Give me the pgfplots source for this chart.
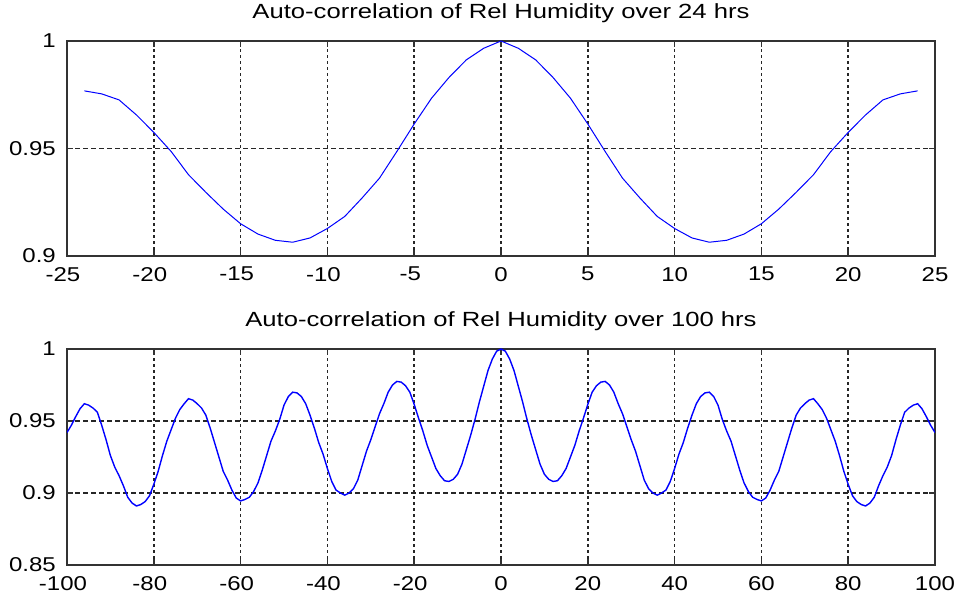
\documentclass[border=0pt]{standalone}
\usepackage{fontspec}
\setmainfont{Liberation Sans}[FakeStretch=1.2]
\newfontfamily\titlefont{Liberation Sans}[FakeStretch=1.25]
\usepackage{pgfplots}
\usepackage{pgfplotstable}
\pgfplotsset{compat=1.18}
\definecolor{axgray}{RGB}{50,50,50}
\definecolor{mblue}{RGB}{0,0,255}

\pgfplotstableread{
x y
-24 0.9768
-23 0.9754
-22 0.9726
-21 0.9656
-20 0.9575
-19 0.9486
-18 0.9378
-17 0.9296
-16 0.9218
-15 0.9150
-14 0.9102
-13 0.9073
-12 0.9064
-11 0.9084
-10 0.9128
-9 0.9184
-8 0.9270
-7 0.9362
-6 0.9486
-5 0.9614
-4 0.9734
-3 0.9830
-2 0.9912
-1 0.9966
0 1.0000
1 0.9966
2 0.9912
3 0.9830
4 0.9734
5 0.9614
6 0.9486
7 0.9362
8 0.9270
9 0.9184
10 0.9128
11 0.9084
12 0.9064
13 0.9073
14 0.9102
15 0.9150
16 0.9218
17 0.9296
18 0.9378
19 0.9486
20 0.9575
21 0.9656
22 0.9726
23 0.9754
24 0.9768
}\toptable

\pgfplotstableread{
x y
-100 0.942
-99 0.947
-98 0.953
-97 0.9585
-96 0.962
-95 0.961
-94 0.959
-93 0.956
-92 0.947
-91 0.937
-90 0.926
-89 0.918
-88 0.912
-87 0.905
-86 0.897
-85 0.893
-84 0.891
-83 0.892
-82 0.894
-81 0.898
-80 0.906
-79 0.915
-78 0.926
-77 0.936
-76 0.944
-75 0.952
-74 0.958
-73 0.962
-72 0.9655
-71 0.9645
-70 0.962
-69 0.959
-68 0.954
-67 0.945
-66 0.935
-65 0.925
-64 0.915
-63 0.909
-62 0.902
-61 0.8965
-60 0.8945
-59 0.8955
-58 0.897
-57 0.901
-56 0.907
-55 0.916
-54 0.926
-53 0.936
-52 0.943
-51 0.951
-50 0.961
-49 0.967
-48 0.970
-47 0.9695
-46 0.967
-45 0.962
-44 0.954
-43 0.945
-42 0.935
-41 0.927
-40 0.917
-39 0.908
-38 0.902
-37 0.900
-36 0.8985
-35 0.900
-34 0.903
-33 0.909
-32 0.919
-31 0.929
-30 0.937
-29 0.946
-28 0.955
-27 0.962
-26 0.970
-25 0.975
-24 0.9775
-23 0.977
-22 0.9745
-21 0.970
-20 0.9615
-19 0.952
-18 0.943
-17 0.933
-16 0.925
-15 0.917
-14 0.912
-13 0.9085
-12 0.908
-11 0.9095
-10 0.913
-9 0.920
-8 0.930
-7 0.940
-6 0.951
-5 0.963
-4 0.974
-3 0.985
-2 0.993
-1 0.9985
0 1.000
1 0.9985
2 0.993
3 0.985
4 0.974
5 0.963
6 0.951
7 0.940
8 0.930
9 0.920
10 0.913
11 0.9095
12 0.908
13 0.9085
14 0.912
15 0.917
16 0.925
17 0.933
18 0.943
19 0.952
20 0.9615
21 0.970
22 0.9745
23 0.977
24 0.9775
25 0.975
26 0.970
27 0.962
28 0.955
29 0.946
30 0.937
31 0.929
32 0.919
33 0.909
34 0.903
35 0.900
36 0.8985
37 0.900
38 0.902
39 0.908
40 0.917
41 0.927
42 0.935
43 0.945
44 0.954
45 0.962
46 0.967
47 0.9695
48 0.970
49 0.967
50 0.961
51 0.951
52 0.943
53 0.936
54 0.926
55 0.916
56 0.907
57 0.901
58 0.897
59 0.8955
60 0.8945
61 0.8965
62 0.902
63 0.909
64 0.915
65 0.925
66 0.935
67 0.945
68 0.954
69 0.959
70 0.962
71 0.9645
72 0.9655
73 0.962
74 0.958
75 0.952
76 0.944
77 0.936
78 0.926
79 0.915
80 0.906
81 0.898
82 0.894
83 0.892
84 0.891
85 0.893
86 0.897
87 0.905
88 0.912
89 0.918
90 0.926
91 0.937
92 0.947
93 0.956
94 0.959
95 0.961
96 0.962
97 0.9585
98 0.953
99 0.947
100 0.942
}\bottable

\pgfplotsset{myax/.style={
  scale only axis, width=868pt,
  axis line style={axgray, line width=1.4pt},
  tick align=inside, xtick pos=both, ytick pos=both,
  major tick length=6pt,
  every tick/.style={axgray, line width=1.5pt},
  grid=major,
  x grid style={black!85, line width=1.5pt, dash pattern=on 3pt off 3pt},
  y grid style={black!85, line width=1.4pt, dash pattern=on 5pt off 3pt},
  tick label style={font=\fontsize{20}{24}\selectfont},
  yticklabel style={anchor=east, inner sep=0pt, xshift=-11pt},
  xticklabel style={anchor=north, inner sep=0pt, yshift=-11pt},
  title style={font=\titlefont\fontsize{20.5}{24}\selectfont, at={(0.5,1)}, anchor=base, yshift=16pt, inner sep=0pt},
}}

\begin{document}
\begin{tikzpicture}[x=1pt,y=1pt]
\path[use as bounding box] (0,0) rectangle (961,596);
\begin{axis}[myax, at={(67pt,340pt)}, anchor=south west, height=215pt,
  xmin=-25, xmax=25, ymin=0.9, ymax=1,
  xtick={-25,-20,-15,-10,-5,0,5,10,15,20,25},
  xticklabels={\llap{-}25,\llap{-}20,\llap{-}15,\llap{-}10,\llap{-}5,0,5,10,15,20,25},
  ytick={0.9,0.95,1}, yticklabels={0.9,0.95,1},
  title={Auto-correlation of Rel Humidity over 24 hrs}]
\addplot[mblue, line width=1pt, mark=none] table[x=x,y=y] {\toptable};
\end{axis}
\begin{axis}[myax, at={(67pt,31pt)}, anchor=south west, height=216pt,
  xmin=-100, xmax=100, ymin=0.85, ymax=1,
  xtick={-100,-80,-60,-40,-20,0,20,40,60,80,100},
  xticklabels={\llap{-}100,\llap{-}80,\llap{-}60,\llap{-}40,\llap{-}20,0,20,40,60,80,100},
  ytick={0.85,0.9,0.95,1}, yticklabels={0.85,0.9,0.95,1},
  title={Auto-correlation of Rel Humidity over 100 hrs}]
\addplot[mblue, line width=1.4pt, mark=none] table[x=x,y=y] {\bottable};
\end{axis}
\end{tikzpicture}
\end{document}
